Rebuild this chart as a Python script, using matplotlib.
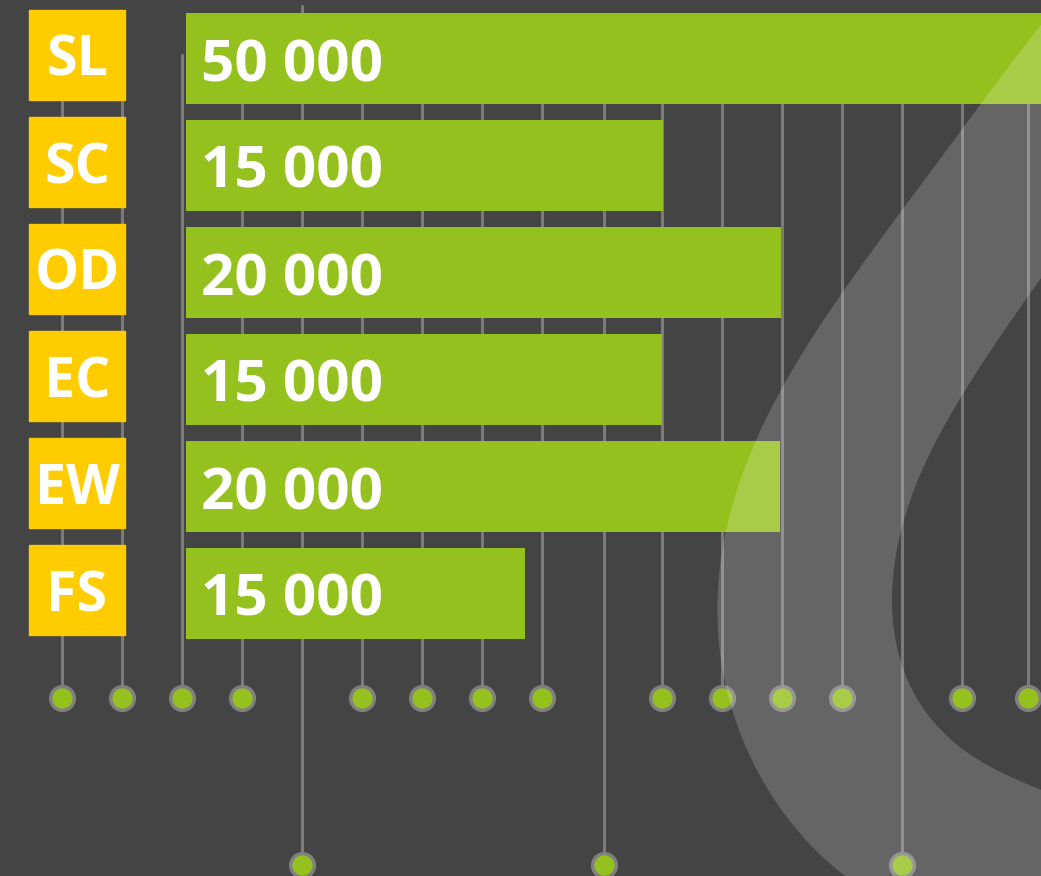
import matplotlib
matplotlib.use("Agg")
import matplotlib.pyplot as plt
import numpy as np
from matplotlib.patches import Polygon, Rectangle

# datos del gráfico
categorias = ["SL", "SC", "OD", "EC", "EW", "FS"]
valores = [50000, 15000, 20000, 15000, 20000, 15000]
# en la infografía las barras no están a escala: largo leído en píxeles
largo_barras = [880, 477, 595, 476, 594, 339]

# "pines" decorativos del fondo
pines_cortos = [62, 122, 182, 242, 362, 422, 482, 542, 662, 722, 782, 842, 962, 1028]
pines_largos = [302, 604, 902]

FONDO = "#444444"
VERDE = "#95c11f"
AMARILLO = "#ffcc00"
GRIS = "#7b7b7b"


def suavizar(puntos, grado=5, n=300):
    # ajuste polinómico paramétrico: curva suave que sigue los puntos leídos
    p = np.array(puntos, float)
    s = np.r_[0, np.cumsum(np.hypot(*np.diff(p, axis=0).T))]
    s /= s[-1]
    ss = np.linspace(0, 1, n)
    x = np.polyval(np.polyfit(s, p[:, 0], grado), ss)
    y = np.polyval(np.polyfit(s, p[:, 1], grado), ss)
    return np.column_stack([x, y])


fig = plt.figure(figsize=(10.41, 8.76), dpi=100, facecolor=FONDO)
ax = fig.add_axes([0, 0, 1, 1])
ax.set_facecolor(FONDO)
ax.set_xlim(0, 1041)
ax.set_ylim(876, 0)
ax.axis("off")

# posiciones de las filas
y_filas = 55 + 107 * np.arange(len(categorias))
alto = 91
x0 = 186

# líneas verticales con sus puntos
fila_puntos = 698
fila_puntos_bajos = 865
for x in pines_cortos:
    arriba = 55 if x == 182 else 20
    ax.plot([x, x], [arriba, fila_puntos], color=GRIS, lw=2.2, zorder=1,
            solid_capstyle="round")
for x in pines_largos:
    arriba = 6 if x == 302 else 20
    ax.plot([x, x], [arriba, fila_puntos_bajos], color=GRIS, lw=2.2, zorder=1,
            solid_capstyle="round")
ax.scatter(pines_cortos, [fila_puntos] * len(pines_cortos), s=290, color=VERDE,
           edgecolor="#808080", linewidth=2.5, zorder=2)
ax.scatter(pines_largos, [fila_puntos_bajos] * len(pines_largos), s=290, color=VERDE,
           edgecolor="#808080", linewidth=2.5, zorder=2)

# barras verdes
ax.barh(y_filas + 3, largo_barras, left=x0, height=alto, color=VERDE, zorder=3)

# cajas amarillas con las siglas
for y, cat in zip(y_filas, categorias):
    ax.add_patch(Rectangle((29, y - 45), 96, 90, color=AMARILLO, zorder=3))
    ax.text(77, y + 21, cat, color="white", fontsize=40, fontweight="bold",
            family="Open Sans", ha="center", va="baseline", zorder=6)

for y, v in zip(y_filas, valores):
    texto = f"{v:,}".replace(",", " ")
    ax.text(x0 + 15, y + 26, texto, color="white", fontsize=42, fontweight="bold",
            family="Open Sans", ha="left", va="baseline", zorder=6)

# franja curva semitransparente
borde_ext = [(1075, -10), (1041, 15), (993, 92), (900, 213), (843, 295),
             (780, 388), (753, 443), (727, 528), (718, 612), (727, 686),
             (750, 760), (800, 833), (850, 876), (880, 900)]
borde_int = [(1075, 805), (1041, 790), (1010, 776), (960, 747), (920, 704),
             (897, 651), (892, 597), (903, 526), (927, 461), (960, 397),
             (993, 347), (1041, 279), (1070, 240)]
contorno = np.vstack([suavizar(borde_ext, 5), [(1110, 920)],
                      suavizar(borde_int, 6), [(1110, -30)]])
ax.add_patch(Polygon(contorno, closed=True, facecolor="white", alpha=0.18,
                     edgecolor="none", zorder=5))

fig.savefig("out.png", dpi=100, facecolor=FONDO)
